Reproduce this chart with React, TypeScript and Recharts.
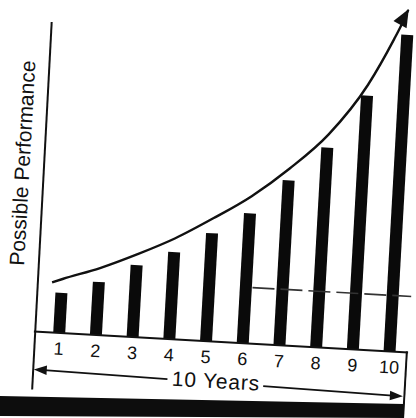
import React from 'react';
import { ComposedChart, Bar, Line, XAxis, YAxis, ReferenceLine } from 'recharts';

// ---- data ----
const years = [1, 2, 3, 4, 5, 6, 7, 8, 9, 10];
const tickLabels = ['1', '2', '3', '4', '5', '6', '7', '8', '9', '10'];
const performance = [40, 53, 72, 87, 108, 130, 165, 200, 254, 317];
const curveYears = [0.72, 1, 2, 3, 4, 5, 6, 7, 8, 9, 9.64, 9.81, 9.98];
const curveValues = [50, 54, 67, 83, 101, 123, 147, 177, 213, 265, 312, 326, 342];
const normalLevel = 56;
const normalFrom = 6.17;
const yLabel = 'Possible Performance';
const xLabel = '10 Years';

const barData = years.map((y, i) => ({ year: y, value: performance[i] }));
const curveData = curveYears.map((x, i) => ({ year: x, curve: curveValues[i] }));

const FONT = '"Liberation Sans", Arial, sans-serif';
const INK = '#111';

const W = 416;
const H = 430;

const Tick = (props: any) => {
  const { x, y, payload } = props;
  const idx = years.indexOf(payload.value);
  return (
    <text
      x={x}
      y={y + 16}
      textAnchor="middle"
      dominantBaseline="central"
      fontFamily={FONT}
      fontSize={18}
      fill={INK}
    >
      {idx >= 0 ? tickLabels[idx] : String(payload.value)}
    </text>
  );
};

const YLabel = (props: any) => {
  const vb = props.viewBox || { x: 0, y: 3, width: 41, height: 350 };
  const cx = vb.x + 20;
  const cy = vb.y + vb.height / 2 + 7.5;
  return (
    <text
      x={cx}
      y={cy}
      transform={`rotate(-90 ${cx} ${cy})`}
      textAnchor="middle"
      dominantBaseline="central"
      fontFamily={FONT}
      fontSize={21}
      fill={INK}
    >
      {yLabel}
    </text>
  );
};

const XLabel = (props: any) => {
  const vb = props.viewBox || { x: 41, y: 353, width: 375, height: 77 };
  const cx = vb.x + vb.width / 2 - 3;
  const cy = vb.y + 39;
  return (
    <text
      x={cx}
      y={cy}
      textAnchor="middle"
      dominantBaseline="central"
      fontFamily={FONT}
      fontSize={21}
      letterSpacing={0.8}
      fill={INK}
    >
      {xLabel}
    </text>
  );
};

const ArrowDot = (props: any) => {
  const { cx, cy, index } = props;
  if (index !== curveValues.length - 1 || cx == null || cy == null) {
    return <g key={`d${index}`} />;
  }
  return (
    <g key={`d${index}`} transform={`translate(${cx} ${cy}) rotate(-64)`}>
      <polygon points="1,0 -17,-7.5 -17,7.5" fill={INK} />
    </g>
  );
};

export default function App() {
  return (
    <div
      style={{
        position: 'absolute',
        left: 0,
        top: 0,
        width: 416,
        height: 418,
        overflow: 'hidden',
        background: '#fff',
      }}
    >
      <div
        style={{
          position: 'absolute',
          left: 0,
          top: -12,
          width: W,
          height: H,
          transform: 'rotate(3.2deg)',
          transformOrigin: '208px 221px',
        }}
      >
        <ComposedChart
          width={W}
          height={H}
          data={barData}
          margin={{ top: 3, right: 0, bottom: 0, left: 0 }}
        >
          <XAxis
            xAxisId="bars"
            dataKey="year"
            type="number"
            domain={[0.3, 10.5]}
            ticks={years}
            interval={0}
            tickSize={0}
            tickMargin={0}
            tickLine={false}
            axisLine={{ stroke: INK, strokeWidth: 2 }}
            tick={<Tick />}
            height={77}
            label={<XLabel />}
          />
          <XAxis
            xAxisId="curve"
            dataKey="year"
            type="number"
            domain={[0.3, 10.5]}
            hide
          />
          <YAxis
            type="number"
            domain={[0, 350]}
            width={41}
            tick={false}
            tickLine={false}
            axisLine={false}
            label={<YLabel />}
          />
          <ReferenceLine
            xAxisId="curve"
            segment={[
              { x: normalFrom, y: normalLevel },
              { x: 10.5, y: normalLevel },
            ]}
            stroke="#333"
            strokeWidth={1.6}
            strokeDasharray="22 6"
            ifOverflow="visible"
          />
          <Bar
            xAxisId="bars"
            dataKey="value"
            barSize={12}
            fill="#0a0a0a"
            isAnimationActive={false}
          />
          <Line
            xAxisId="curve"
            data={curveData}
            dataKey="curve"
            type="monotone"
            stroke={INK}
            strokeWidth={2.4}
            dot={ArrowDot}
            activeDot={false}
            isAnimationActive={false}
          />
        </ComposedChart>
        <svg
          width={W}
          height={H}
          style={{ position: 'absolute', left: 0, top: 0, pointerEvents: 'none' }}
        >
          <line x1={41.5} y1={43} x2={42.5} y2={411} stroke={INK} strokeWidth={2} />
          <line x1={414.5} y1={352} x2={414.5} y2={430} stroke={INK} strokeWidth={2} />
          <line x1={50} y1={391} x2={177} y2={393.1} stroke={INK} strokeWidth={1.8} />
          <line x1={273} y1={394.7} x2={406} y2={397} stroke={INK} strokeWidth={1.8} />
          <polygon points="43,391 56,386.3 56,395.7" fill={INK} />
          <polygon points="413,397 400,392.3 400,401.7" fill={INK} />
        </svg>
      </div>
      <svg
        width={416}
        height={418}
        style={{ position: 'absolute', left: 0, top: 0, pointerEvents: 'none' }}
      >
        <polygon points="0,396 404,404 404,418 0,416" fill="#0d0d0d" />
      </svg>
    </div>
  );
}
